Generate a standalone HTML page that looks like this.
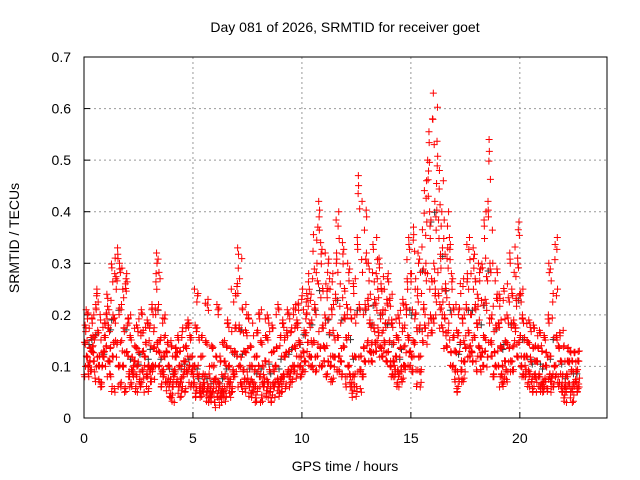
<!DOCTYPE html>
<html><head><meta charset="utf-8"><style>
body{margin:0;background:#fff}
svg{display:block;font-family:"Liberation Sans",sans-serif}
</style></head><body>
<svg id="chart" width="640" height="480" viewBox="0 0 640 480">
<rect width="640" height="480" fill="#fff"/>
<text x="345" y="32" text-anchor="middle" font-size="14">Day 081 of 2026, SRMTID for receiver goet</text>
<g id="grid"></g>
<g id="ticks"></g>
<g id="pts"></g>
<rect x="84" y="57" width="523" height="361" fill="none" stroke="#000" stroke-width="1"/>
<text x="345" y="471" text-anchor="middle" font-size="14">GPS time / hours</text>
<text transform="translate(19,238) rotate(-90)" text-anchor="middle" font-size="14">SRMTID / TECUs</text>
</svg>
<script>
const xTicks=[0,5,10,15,20];
const yTicks=[0,0.1,0.2,0.3,0.4,0.5,0.6,0.7];
const yTickLabels=["0","0.1","0.2","0.3","0.4","0.5","0.6","0.7"];
const binHours=[0,0.25,0.5,0.75,1,1.25,1.5,1.75,2,2.25,2.5,2.75,3,3.25,3.5,3.75,4,4.25,4.5,4.75,5,5.25,5.5,5.75,6,6.25,6.5,6.75,7,7.25,7.5,7.75,8,8.25,8.5,8.75,9,9.25,9.5,9.75,10,10.25,10.5,10.75,11,11.25,11.5,11.75,12,12.25,12.5,12.75,13,13.25,13.5,13.75,14,14.25,14.5,14.75,15,15.25,15.5,15.75,16,16.25,16.5,16.75,17,17.25,17.5,17.75,18,18.25,18.5,18.75,19,19.25,19.5,19.75,20,20.25,20.5,20.75,21,21.25,21.5,21.75,22,22.25,22.5];
const binValues=[
[.08,.12,.15,.18,.21,.10],[.09,.13,.16,.11,.20,.14],[.07,.12,.17,.22,.25,.10],[.06,.10,.13,.16,.19,.12],
[.08,.14,.18,.21,.24,.11],[.05,.12,.20,.28,.31,.15],[.06,.15,.22,.30,.33,.10],[.05,.10,.18,.26,.28,.13],
[.06,.09,.12,.16,.20,.08],[.05,.08,.11,.14,.18,.10],[.06,.09,.13,.17,.21,.07],[.05,.08,.12,.15,.19,.10],
[.07,.10,.14,.18,.22,.09],[.10,.15,.22,.28,.32,.13],[.06,.09,.12,.16,.20,.08],[.04,.07,.10,.13,.15,.06],
[.03,.06,.09,.12,.14,.08],[.04,.07,.10,.13,.16,.06],[.05,.08,.11,.14,.18,.09],[.06,.09,.12,.16,.19,.10],
[.04,.06,.10,.18,.25,.08],[.04,.06,.08,.12,.16,.05],[.03,.05,.08,.15,.23,.06],[.03,.05,.07,.10,.14,.04],
[.02,.04,.07,.12,.22,.06],[.03,.05,.08,.11,.15,.04],[.04,.07,.10,.14,.19,.06],[.05,.09,.13,.18,.25,.08],
[.06,.12,.18,.27,.33,.10],[.05,.09,.13,.17,.22,.07],[.04,.07,.10,.14,.20,.06],[.03,.06,.09,.12,.17,.05],
[.03,.06,.10,.15,.21,.08],[.04,.07,.11,.16,.20,.06],[.03,.06,.09,.13,.18,.05],[.04,.07,.10,.14,.22,.06],
[.05,.08,.12,.16,.19,.07],[.06,.09,.13,.17,.21,.08],[.07,.10,.14,.18,.22,.09],[.08,.12,.15,.19,.23,.10],
[.09,.13,.17,.21,.25,.11],[.10,.15,.19,.24,.28,.12],[.09,.15,.22,.30,.37,.12],[.10,.18,.26,.34,.42,.14],
[.08,.14,.20,.26,.32,.11],[.07,.12,.17,.22,.28,.10],[.09,.16,.24,.32,.40,.12],[.08,.14,.20,.26,.34,.11],
[.06,.10,.16,.22,.30,.08],[.04,.08,.12,.20,.27,.06],[.05,.12,.22,.35,.47,.09],[.08,.14,.22,.32,.42,.11],
[.11,.15,.19,.24,.30,.13],[.13,.18,.23,.28,.35,.15],[.12,.17,.21,.26,.31,.14],[.11,.15,.19,.23,.28,.13],
[.08,.11,.15,.19,.24,.10],[.06,.09,.12,.16,.20,.08],[.07,.10,.14,.18,.23,.09],[.10,.16,.22,.28,.35,.13],
[.09,.15,.21,.28,.37,.12],[.06,.12,.18,.25,.32,.09],[.15,.22,.30,.38,.46,.18],[.17,.28,.40,.50,.58,.20],
[.20,.30,.42,.53,.63,.25],[.18,.25,.33,.40,.48,.22],[.14,.20,.26,.33,.40,.17],[.10,.16,.22,.28,.35,.13],
[.05,.09,.13,.17,.22,.07],[.07,.11,.15,.20,.27,.09],[.12,.17,.22,.28,.35,.14],[.11,.16,.22,.28,.33,.13],
[.09,.14,.19,.24,.30,.12],[.10,.16,.23,.31,.40,.13],[.12,.20,.30,.42,.54,.15],[.08,.13,.18,.24,.30,.10],
[.06,.10,.14,.19,.24,.08],[.07,.11,.15,.20,.26,.09],[.09,.14,.19,.25,.32,.11],[.12,.18,.24,.31,.38,.15],
[.08,.12,.16,.20,.25,.10],[.06,.09,.12,.15,.19,.08],[.05,.08,.11,.14,.18,.07],[.05,.08,.11,.14,.17,.06],
[.05,.07,.10,.13,.16,.06],[.05,.08,.12,.20,.30,.07],[.06,.10,.16,.25,.35,.08],[.05,.08,.11,.14,.17,.06],
[.03,.06,.08,.11,.14,.05],[.03,.06,.09,.11,.13,.05],[.05,.07,.09,.11,.13,.06]];

const NS="http://www.w3.org/2000/svg";
const X=h=>84+h*(523/24);
const Y=v=>418-v*(361/0.7);
/* scatter layout (styling): time offsets and value spread per pass */
const offs=[0.03,0.17,0.09,0.21,0.12,0.06,0.19,0.01,0.14,0.08,0.23,0.11,0.05,0.16,0.22,0.02,0.10,0.18,0.13,0.24,0.07,0.20,0.04,0.15];
const spread=[1,0.9,0.95,0.82];
const shift=[0,0.012,0.004,0.02];
const grid=document.getElementById('grid'),ticks=document.getElementById('ticks'),pts=document.getElementById('pts');
function mk(tag,a,parent){const e=document.createElementNS(NS,tag);for(const k in a)e.setAttribute(k,a[k]);parent.appendChild(e);return e;}
xTicks.forEach(t=>{
  if(t>0){const g=mk('line',{x1:X(t),x2:X(t),y1:57,y2:418,stroke:'#999','stroke-dasharray':'2,3'},grid);
  
  }
  const tm=mk('line',{x1:X(t),x2:X(t),y1:418,y2:412,stroke:'#000'},ticks);
  
  
  const l=mk('text',{x:X(t),y:443,'text-anchor':'middle','font-size':14},ticks);l.textContent=String(t);
  
  
});
yTicks.forEach((v,i)=>{
  if(v>0&&v<0.7){const g=mk('line',{x1:84,x2:607,y1:Y(v),y2:Y(v),stroke:'#999','stroke-dasharray':'2,3'},grid);
  
  }
  const tm=mk('line',{x1:84,x2:90,y1:Y(v),y2:Y(v),stroke:'#000'},ticks);
  
  
  const l=mk('text',{x:71,y:Y(v)+5,'text-anchor':'end','font-size':14},ticks);l.textContent=yTickLabels[i];
  
  
});
function plus(x,y,c){
  const p=mk('path',{d:`M${x-3.5},${y}H${x+3.5}M${x},${y-3.5}V${y+3.5}`,stroke:c,'stroke-width':1,fill:'none'},pts);
  
  
}
binHours.forEach((h,i)=>{
  binValues[i].forEach((v,k)=>{
    if(k===2)plus(X(h+offs[(k*5+i)%24]),Y(v*0.95),'#333');
  });
});
spread.forEach((m,p)=>{
  binHours.forEach((h,i)=>{
    binValues[i].forEach((v,k)=>{
      const o=offs[(k*4+p*7+i*5)%24];
      const val=p===0?v:Math.max(0.025,v*m+shift[p]);
      plus(X(h+o),Y(val),'#f00');
    });
  });
});
</script>
</body></html>
